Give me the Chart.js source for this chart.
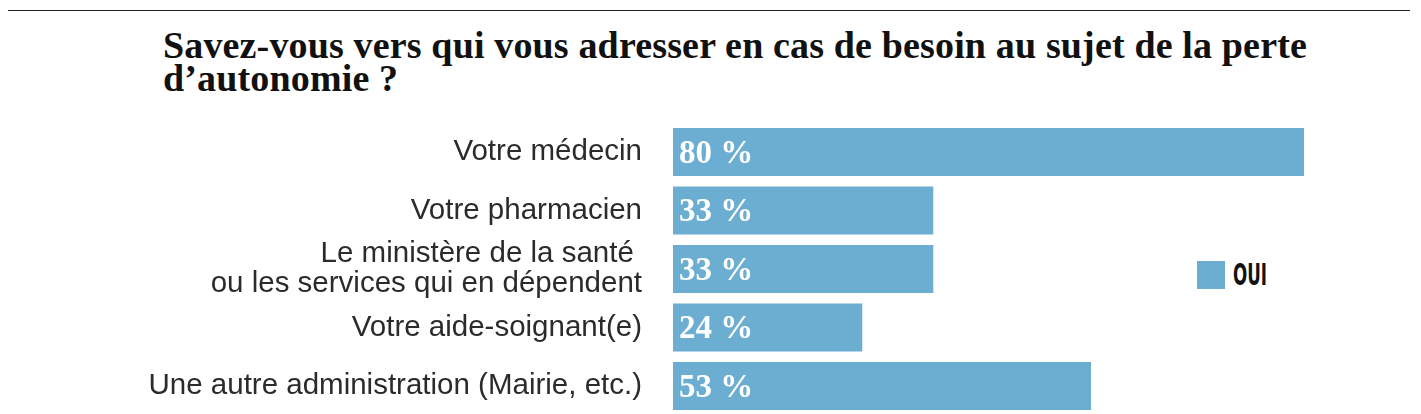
<!DOCTYPE html>
<html>
<head>
<meta charset="utf-8">
<script src="https://cdn.jsdelivr.net/npm/chart.js@4"></script>
<style>
  html, body { margin: 0; padding: 0; background: #fff; }
  body { width: 1421px; height: 414px; overflow: hidden; position: relative; }
  .rule { position: absolute; left: 8px; top: 10px; width: 1402px; height: 1px; background: #222; }
  .title {
    position: absolute; left: 163px; top: 29px; margin: 0;
    font: bold 38px/33px "Liberation Serif", serif; color: #111;
    letter-spacing: 0.15px; white-space: nowrap;
  }
  .legend { position: absolute; left: 1197px; top: 261px; height: 28px; }
  .legend .sw { position: absolute; left: 0; top: 0; width: 28px; height: 28px; }
  .legend .lb {
    position: absolute; left: 36px; top: -3px; white-space: nowrap;
    font: bold 30px/34px "DejaVu Sans Condensed", sans-serif; color: #111;
    transform: scaleX(0.62); transform-origin: left center;
  }
  #chart { position: absolute; left: 0; top: 0; }
</style>
</head>
<body>
<div class="rule"></div>
<h1 class="title">Savez-vous vers qui vous adresser en cas de besoin au sujet de la perte<br>d’autonomie ?</h1>
<div class="legend"><div class="sw" id="sw"></div><div class="lb" id="lb"></div></div>
<canvas id="chart" width="1421" height="420"></canvas>
<script>
// data
const categories = [
  'Votre médecin',
  'Votre pharmacien',
  ['Le ministère de la santé ', 'ou les services qui en dépendent'],
  'Votre aide-soignant(e)',
  'Une autre administration (Mairie, etc.)'
]
const seriesName = 'OUI'
const oui = [80, 33, 33, 24, 53]

const barColor = '#6caed1'

document.getElementById('sw').style.background = barColor
document.getElementById('lb').textContent = seriesName

const valueLabels = {
  id: 'valueLabels',
  afterDatasetsDraw(chart) {
    const ctx = chart.ctx
    const meta = chart.getDatasetMeta(0)
    ctx.save()
    ctx.fillStyle = '#fff'
    ctx.font = 'bold 33px "Liberation Serif", serif'
    ctx.textBaseline = 'middle'
    ctx.textAlign = 'left'
    meta.data.forEach((bar, i) => {
      ctx.fillText(chart.data.datasets[0].data[i] + ' %', bar.base + 6, bar.y + 2)
    })
    ctx.restore()
  }
}

const canvas = document.getElementById('chart')
new Chart(canvas, {
  type: 'bar',
  data: {
    labels: categories,
    datasets: [{
      label: seriesName,
      data: oui,
      backgroundColor: barColor,
      categoryPercentage: 1,
      barPercentage: 0.82
    }]
  },
  options: {
    indexAxis: 'y',
    responsive: false,
    animation: false,
    layout: { padding: { top: 122.75, bottom: 4.75, right: 117, left: 0 } },
    scales: {
      x: { display: false, min: 0, max: 80 },
      y: {
        afterFit(scale) {
          // fixed axis width, and no extra room for half labels
          scale.width = 673
          scale.paddingTop = 0
          scale.paddingBottom = 0
        },
        border: { display: false },
        grid: { display: false, drawTicks: false },
        ticks: {
          autoSkip: false,
          padding: 31,
          color: '#2b2b2b',
          font: { family: '"Liberation Sans", Arial, sans-serif', size: 29.5, lineHeight: 1.03 }
        }
      }
    },
    plugins: {
      legend: { display: false },
      tooltip: { enabled: false }
    }
  },
  plugins: [valueLabels]
})
</script>
</body>
</html>
